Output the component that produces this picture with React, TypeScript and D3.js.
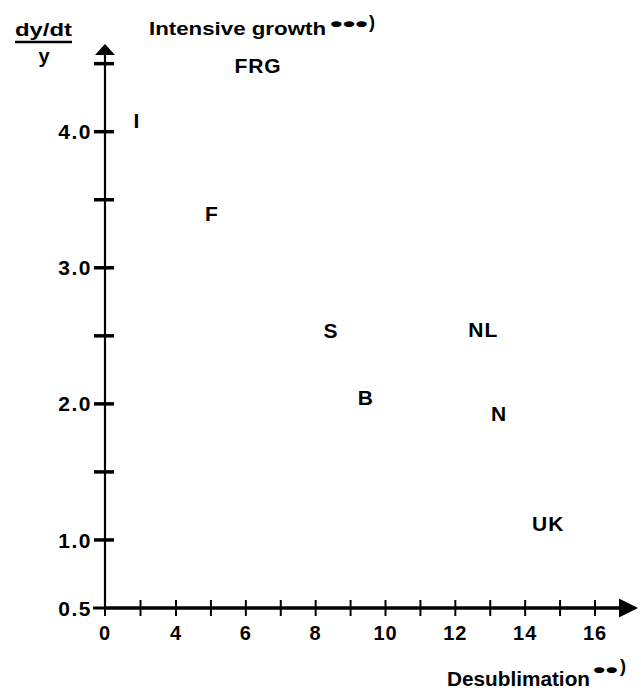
import React from "react";
import * as d3 from "d3";

const countries = ["FRG", "I", "F", "S", "NL", "B", "N", "UK"];
const desublimation = [6.35, 1.8, 5.03, 8.44, 12.8, 9.44, 13.25, 14.66];
const intensiveGrowth = [4.49, 4.08, 3.4, 2.54, 2.55, 2.05, 1.93, 1.12];

const xTickValues = [0, 2, 4, 5, 6, 7, 8, 9, 10, 11, 12, 13, 14, 15, 16];
const xTickLabels = [0, 4, 6, 8, 10, 12, 14, 16];
const yTickValues = [1, 1.5, 2, 2.5, 3, 3.5, 4, 4.5];
const yTickLabels = [0.5, 1, 2, 3, 4];

const W = 641;
const H = 693;
const FONT = "'Liberation Sans', Arial, Helvetica, sans-serif";

export default function App() {
  const x = d3.scaleLinear().domain([0, 4, 16]).range([105, 176, 595]);
  const y = d3.scaleLinear().domain([0.5, 4]).range([608, 131.7]);
  const x0 = x(0);
  const y0 = y(0.5);
  const xEnd = 638;
  const yTop = 44;

  return (
    <svg
      width={W}
      height={H}
      viewBox={`0 0 ${W} ${H}`}
      style={{ position: "absolute", left: 0, top: 0, background: "#fff" }}
      fontFamily={FONT}
    >
      <rect x={0} y={0} width={W} height={H} fill="#fff" />
      {/* y axis */}
      <line x1={x0} y1={y0} x2={x0} y2={yTop + 10} stroke="#000" strokeWidth={2.2} />
      <path d={`M${x0},${yTop} L${x0 - 10},${yTop + 11} L${x0 + 10},${yTop + 11} Z`} fill="#000" />
      {/* x axis */}
      <line x1={x0} y1={y0} x2={xEnd - 16} y2={y0} stroke="#000" strokeWidth={3.5} />
      <path d={`M${xEnd},${y0} L${xEnd - 19},${y0 - 9.5} L${xEnd - 19},${y0 + 9.5} Z`} fill="#000" />

      {/* y ticks */}
      {yTickValues.map((v) => (
        <line key={"yt" + v} x1={x0 - 11} x2={x0 + 9} y1={y(v)} y2={y(v)} stroke="#000" strokeWidth={3.5} />
      ))}
      <line x1={x0 - 12} x2={x0} y1={y0} y2={y0} stroke="#000" strokeWidth={3} />
      {yTickLabels.map((v) => (
        <text
          key={"yl" + v}
          x={x0 - 13}
          y={y(v)}
          dy="0.36em"
          textAnchor="end"
          fontSize={21}
          fontWeight="bold"
          letterSpacing={1.5}
          fill="#000"
        >
          {d3.format(".1f")(v)}
        </text>
      ))}

      {/* x ticks */}
      {xTickValues.map((v) => (
        <line key={"xt" + v} x1={x(v)} x2={x(v)} y1={y0 - 8} y2={y0 + 8} stroke="#000" strokeWidth={2} />
      ))}
      {xTickLabels.map((v) => (
        <text
          key={"xl" + v}
          x={x(v)}
          y={y0 + 32}
          textAnchor="middle"
          fontSize={20}
          fontWeight="bold"
          letterSpacing={1}
          fill="#000"
        >
          {v}
        </text>
      ))}

      {/* y axis title */}
      <text x={15} y={36} fontSize={19} fontWeight="bold" textLength={57} lengthAdjust="spacingAndGlyphs" fill="#000">
        dy/dt
      </text>
      <line x1={15} x2={72} y1={42} y2={42} stroke="#000" strokeWidth={2.5} />
      <text x={44} y={63} textAnchor="middle" fontSize={20} fontWeight="bold" fill="#000">
        y
      </text>

      {/* top title */}
      <text x={149} y={35} fontSize={19} fontWeight="bold" textLength={177} lengthAdjust="spacingAndGlyphs" fill="#000">
        Intensive growth
      </text>
      <text x={330} y={31} fontSize={20} fontWeight="bold" textLength={38} lengthAdjust="spacingAndGlyphs" fill="#000">
        •••
      </text>
      <text x={369} y={28} fontSize={18} fontWeight="bold" fill="#000">
        )
      </text>

      {/* x axis title */}
      <text x={447} y={686} fontSize={20} fontWeight="bold" textLength={143} lengthAdjust="spacingAndGlyphs" fill="#000">
        Desublimation
      </text>
      <text x={593} y={677} fontSize={20} fontWeight="bold" textLength={25} lengthAdjust="spacingAndGlyphs" fill="#000">
        ••
      </text>
      <text x={620} y={672} fontSize={18} fontWeight="bold" fill="#000">
        )
      </text>

      {/* country labels */}
      {countries.map((c, i) => (
        <text
          key={c}
          x={x(desublimation[i])}
          y={y(intensiveGrowth[i])}
          dy="0.36em"
          textAnchor="middle"
          fontSize={21}
          fontWeight="bold"
          letterSpacing={1}
          fill="#000"
        >
          {c}
        </text>
      ))}
    </svg>
  );
}
